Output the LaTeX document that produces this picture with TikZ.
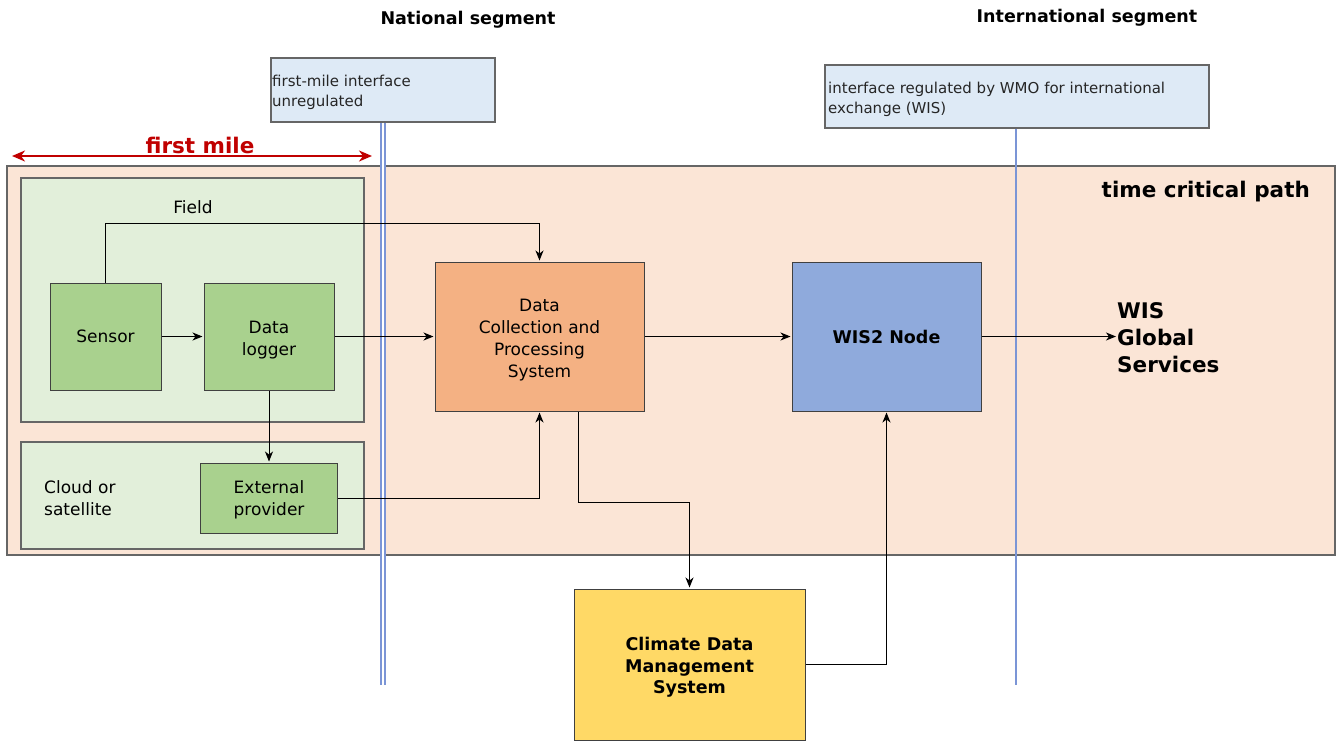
\documentclass[tikz,border=0pt]{standalone}
\usepackage{fontspec}
\setmainfont{DejaVu Sans}
\usepackage{xcolor}
\usetikzlibrary{arrows.meta,positioning}

\definecolor{peach}{HTML}{FBE5D6}
\definecolor{fieldgreen}{HTML}{E2EFDA}
\definecolor{nodegreen}{HTML}{A9D18E}
\definecolor{dcpsorange}{HTML}{F4B183}
\definecolor{wisblue}{HTML}{8FAADC}
\definecolor{cdmsyellow}{HTML}{FFD966}
\definecolor{ifaceblue}{HTML}{DEEAF6}
\definecolor{segblue}{HTML}{7B95D6}
\definecolor{milered}{HTML}{C00000}
\definecolor{bordergray}{HTML}{666666}

\begin{document}
\begin{tikzpicture}[x=1pt,y=-1pt,>={Stealth[length=10pt,width=8pt,inset=3pt]},
		region/.style={rectangle,draw=bordergray,line width=1.2pt,inner sep=0pt},
		main node/.style={rectangle,draw=black!75,line width=1pt,inner sep=0pt,align=center,
			font=\fontsize{17}{22}\selectfont},
		bold node/.style={main node,font=\bfseries\fontsize{17.5}{21.5}\selectfont},
		text node/.style={rectangle,inner sep=0pt,font=\fontsize{17}{22}\selectfont},
		big text/.style={text node,font=\bfseries\fontsize{21.5}{27}\selectfont},
		seg text/.style={text node,font=\bfseries\fontsize{17.5}{21}\selectfont},
		iface text/.style={text node,align=left,text=black!85,font=\fontsize{15}{20}\selectfont},
		flow/.style={->,black,line width=1pt,shorten >=1pt}]
		
		\useasboundingbox (0,0) rectangle (1338,740);
		
		% regions
		\node[region,fill=peach,minimum width=1328,minimum height=389] (tcp) at (671,360.5) {};
		\node[region,fill=fieldgreen,minimum width=343,minimum height=244] (field) at (192.5,300) {};
		\node[region,fill=fieldgreen,minimum width=343,minimum height=107] (cloud) at (192.5,495.5) {};
		\node[region,fill=ifaceblue,minimum width=224,minimum height=64] (fmbox) at (383,90) {};
		\node[region,fill=ifaceblue,minimum width=384,minimum height=63] (wmobox) at (1017,96.5) {};
		
		\node[seg text] (national) at (468,20) {National segment};
		\node[seg text] (international) at (1087,18) {International segment};
		\node[iface text,anchor=west] (fmtext) at (272,92) {first-mile interface\\unregulated};
		\node[iface text,anchor=west] (wmotext) at (828,99) {interface regulated by WMO for international\\exchange (WIS)};
		\node[big text,text=milered] (milelabel) at (200,145) {first mile};
		\node[big text,anchor=east] (tcplabel) at (1310,192) {time critical path};
		\node[text node] (fieldlabel) at (193,207) {Field};
		\node[text node,anchor=west,align=left] (cloudlabel) at (44,498) {Cloud or\\satellite};
		
		% boxes
		\node[main node,fill=nodegreen,minimum width=111,minimum height=107] (sensor) at (105.5,336.5) {Sensor};
		\node[main node,fill=nodegreen,minimum width=130,minimum height=107] (logger) [right=42pt of sensor] {\rule{0pt}{19pt}Data\\logger};
		\node[main node,fill=nodegreen,minimum width=137,minimum height=70] (ext) [below=72pt of logger] {\rule{0pt}{17pt}External\\provider};
		\node[main node,fill=dcpsorange,minimum width=209,minimum height=149] (dcps) at (539.5,336.5) {\rule{0pt}{20pt}Data\\Collection and\\Processing\\System};
		\node[bold node,fill=wisblue,minimum width=189,minimum height=149] (wis) at (886.5,336.5) {WIS2 Node};
		\node[bold node,fill=cdmsyellow,minimum width=231,minimum height=151] (cdms) at (689.5,664.5) {\rule{0pt}{19pt}Climate Data\\Management\\System};
		\node[big text,anchor=west,align=left] (gs) at (1117,338) {WIS\\Global\\Services};
		
		% segment borders
		\coordinate (natend) at (383,685);
		\coordinate (wmoend) at (1016,685);
		\draw[segblue,line width=1.3pt,double=white,double distance=2.5pt] (fmbox.south) -- (natend);
		\draw[segblue,line width=1.6pt] (wmobox.south -| wmoend) -- (wmoend);
		
		% first mile extent
		\coordinate (milel) at (12,156);
		\coordinate (miler) at (372,156);
		\draw[{Stealth[length=13pt,width=11pt,inset=4pt]}-{Stealth[length=13pt,width=11pt,inset=4pt]},milered,line width=2pt] (milel) -- (miler);
		
		\path[flow]
		(sensor) edge (logger)
		(logger) edge (dcps)
		(logger) edge (ext)
		(dcps) edge (wis)
		(wis) edge (wis.east -| gs.west);
		
		\draw[flow] (sensor.north) -- ++(0,-59) -| (dcps.north);
		\draw[flow] (ext.east) -| (dcps.south);
		\draw[flow] ([xshift=38.5pt]dcps.south) -- ++(0,91) -| (cdms.north);
		\draw[flow] (cdms.east) -| (wis.south);
		
\end{tikzpicture}
\end{document}
